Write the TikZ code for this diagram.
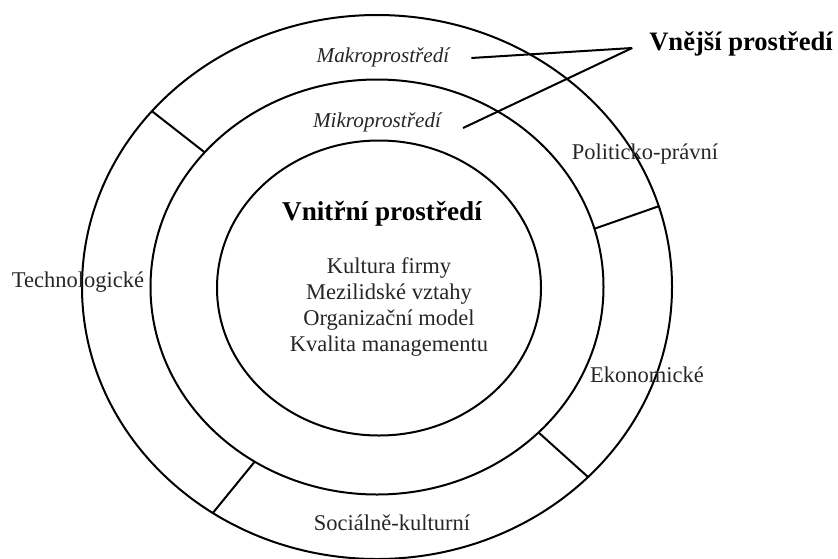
\documentclass[tikz,border=0pt]{standalone}
\usepackage{fontspec}
\setmainfont{Liberation Serif}
\usetikzlibrary{positioning,calc,shapes.geometric}
\tikzset{
  ring/.style={ellipse,draw=black,line width=1pt,inner sep=0pt,outer sep=0pt},
  divider/.style={draw=black,line width=1pt},
  pointer line/.style={draw=black,line width=1pt},
  sector label/.style={font=\fontsize{11.25}{13}\selectfont,text=black!85},
  layer label/.style={font=\fontsize{10.6}{13}\selectfont\itshape,text=black!85},
  title label/.style={font=\fontsize{13.6}{16}\selectfont\bfseries,text=black}
}

\begin{document}
\begin{tikzpicture}[x=0.5pt,y=0.5pt]
  \useasboundingbox (-377,-271) rectangle (461,287);
  % the three rings
  \node[ring,minimum width=295pt,minimum height=272pt] (makroRing) at (0,0) {};
  \node[ring,minimum width=226.5pt,minimum height=207.5pt] (mikroRing) at (0,0) {};
  \node[ring,minimum width=162pt,minimum height=147.5pt] (vnitrniRing) at (2,-1) {};
  % sector borders in the outer ring
  \draw[divider] (makroRing.142) -- (mikroRing.142);
  \draw[divider] (makroRing.16) -- (mikroRing.15);
  \draw[divider] (makroRing.-42) -- (mikroRing.-42);
  \draw[divider] (makroRing.-126) -- (mikroRing.-125);
  % labels
  \node[layer label] (makro) at (6,230) {Makroprostředí};
  \node[layer label] (mikro) at (0,165) {Mikroprostředí};
  \node[title label,font=\fontsize{13.3}{16}\selectfont\bfseries] (vnejsi) at (364,243) {Vnější prostředí};
  \node[title label] (vnitrni) at (5,73) {Vnitřní prostředí};
  \node[sector label,align=center] (faktory) at (12,-20) {Kultura firmy\\Mezilidské vztahy\\Organizační model\\Kvalita managementu};
  \node[sector label] (techno) at (-299,5) {Technologické};
  \node[sector label] (politicko) at (268,133) {Politicko-právní};
  \node[sector label] (ekonom) at (270,-88) {Ekonomické};
  \node[sector label] (social) at (15,-236) {Sociálně-kulturní};
  % pointers to the outer environment
  \coordinate (vnejsiTip) at ([xshift=-5pt,yshift=-2pt]vnejsi.west);
  \draw[pointer line] ([xshift=7.5pt,yshift=-0.5pt]makro.east) -- (vnejsiTip);
  \draw[pointer line] ([xshift=7.5pt,yshift=-3pt]mikro.east) -- (vnejsiTip);
\end{tikzpicture}
\end{document}
